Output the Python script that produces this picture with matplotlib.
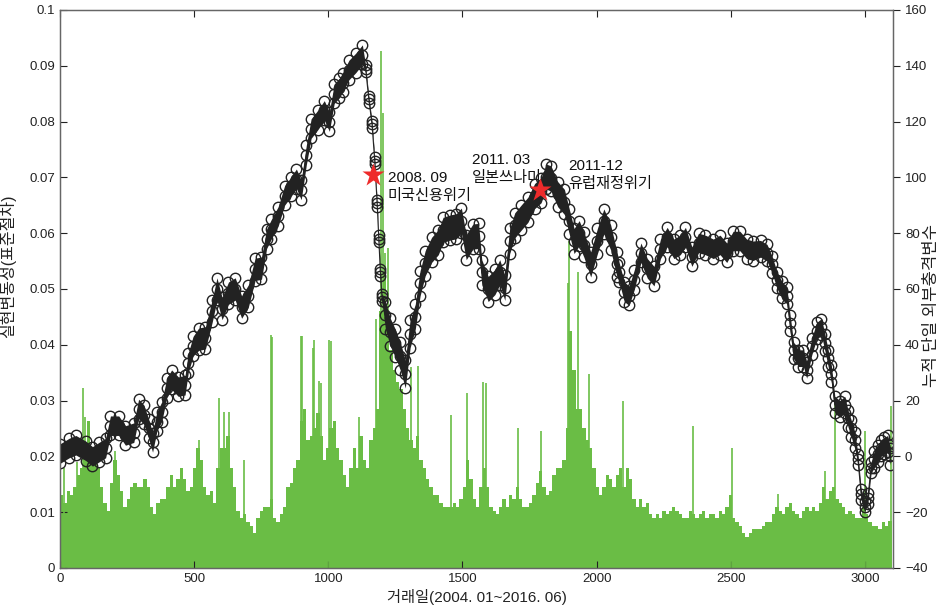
import numpy as np
import matplotlib
matplotlib.use("Agg")
import matplotlib.pyplot as plt
from matplotlib.ticker import FuncFormatter, MultipleLocator

plt.rcParams['font.family'] = ['Liberation Sans', 'Noto Sans CJK KR', 'DejaVu Sans']

# realized volatility (x 1/1000), one value per ~12 trading days, 2004.01 ~ 2016.06
rv_vals = [
    13, 11.7, 13.8, 13, 14.5, 16.6, 18, 21.5, 26.4, 21.5, 19.4, 18, 14.5, 11.7, 10.3, 15.2,
    19.4, 16.6, 13.8, 11, 12.4, 14.5, 15.2, 14.5, 14.5, 16, 14.5, 11, 9.7, 11.7, 12.4, 12.4,
    14.5, 16.6, 14.5, 16, 18, 16, 13.8, 14.5, 18, 21.5,
    19.4, 14.5, 13, 13.8, 11.7, 18, 21.5, 21.5, 23.6, 18, 14.5, 10.3, 9, 9.7, 8.3, 7.6,
    6.2, 9, 10.3, 11, 11, 12.4, 9, 8.3, 9.7, 11, 14.5, 15.2, 18, 19.4, 26.4, 28.5,
    23, 23.6, 25, 27.8, 23.6, 19.4, 21.5, 25, 26.4, 21.5,
    19.4, 16.6, 14.5, 18, 21.5, 18, 23.6, 19.4, 18, 23, 25, 28.5, 46, 53, 46, 39,
    35.5, 33.4, 32, 28.5, 25, 23, 21.5, 23.6, 19.4, 18, 16, 14.5, 13, 13, 11.7, 11,
    11, 11, 11.7, 11, 12.4, 14.5, 19.4, 16, 12.4, 11,
    14.5, 18, 14.5, 11, 10.3, 9.7, 11, 12.4, 11, 13, 12.4, 14.5, 12.4, 11, 11, 11.7,
    13, 15.2, 17.3, 14.5, 13, 13.8, 16.6, 18, 18, 19.4, 25, 42.5, 35.5, 28.5, 28.5, 25,
    23, 21.5, 18, 14.5, 13, 14.5, 16.6, 16, 14.5, 16.6,
    18, 14.5, 18, 16, 12.4, 11, 12.4, 11, 11.7, 9.7, 9, 9.7, 9, 10.3, 9.7, 10.3,
    11, 10.3, 9.7, 9, 9, 10.3, 9.7, 9, 9.7, 10.3, 9, 9.7, 9.7, 9, 10.3, 9.7,
    11, 13, 9, 8.3, 7.6, 6.2, 5.5, 6.2, 6.9,
    6.9, 6.9, 7.6, 8.3, 8.3, 9.7, 11, 10.3, 9.7, 11, 11.7, 10.3, 9.7, 9, 10.3, 11,
    10.3, 11, 10.3, 11.7, 14.5, 12.4, 13.8, 14.5, 12.4, 11.7, 11, 9.7, 10.3, 9.7, 9, 9,
    11, 9.7, 8.3, 7.6, 7.6, 6.9, 8.3, 7.6, 8.5,
]

# single-day volatility spikes (trading day, x 1/1000)
spike_day = [16, 65, 87, 95, 205, 517, 592, 610, 630, 687, 786, 789, 899, 903, 942, 947,
             967, 972, 1004, 1009, 1114, 1176, 1198, 1204, 1213, 1221, 1308, 1336, 1458,
             1518, 1578, 1586, 1707, 1793, 1894, 1898, 1929, 1972, 2097, 2358, 2503, 2675,
             2851, 2888, 3000, 3098]
spike_vals = [18, 19, 32.2, 27, 21, 23, 30.5, 28, 28, 19.4, 41.8, 41.4, 41.6, 41.6, 39.4, 40.8,
              33.6, 33.1, 40.8, 40.6, 27, 44.6, 92.7, 81.5, 56.5, 57.3, 36, 36.2, 27.4,
              31.3, 33.4, 33.1, 25, 24.5, 51, 58.6, 53, 34.8, 30, 25.4, 21.5, 13.3,
              17.3, 30.6, 24.5, 29]

# cumulative single external shock variable (right axis): band centre and half-width
shock_day = [0, 34, 59, 96, 121, 145, 170, 188, 219, 244, 275, 293, 312, 330, 345, 361,
             379, 398, 416, 441, 466, 478, 496, 517, 542, 567, 585, 604, 628, 653, 677,
             702, 727, 751, 770, 788, 813, 837, 862, 881, 899, 918, 936, 961, 985, 1004,
             1022, 1041, 1053, 1077, 1102, 1127, 1139, 1151, 1163, 1173, 1182, 1188, 1194,
             1200, 1213, 1231, 1250, 1268, 1287, 1305, 1324, 1342, 1361, 1385, 1410, 1428,
             1453, 1477, 1496, 1514, 1539, 1560, 1572, 1596, 1621, 1639, 1658, 1676, 1695,
             1719, 1744, 1769, 1793, 1812, 1830, 1855, 1880, 1898, 1916, 1935, 1953, 1978,
             2003, 2027, 2052, 2076, 2084, 2103, 2121, 2140, 2165, 2189, 2214, 2238, 2263,
             2288, 2312, 2331, 2355, 2380, 2405, 2435, 2460, 2485, 2509, 2534, 2559, 2583,
             2611, 2635, 2654, 2672, 2691, 2709, 2721, 2734, 2752, 2771, 2783, 2802, 2820,
             2838, 2851, 2863, 2875, 2888, 2906, 2925, 2937, 2949, 2962, 2974, 2986, 2999,
             3011, 3023, 3035, 3048, 3060, 3072, 3085, 3095]
shock_vals = [1, 3, 4, 2, 0, 1.5, 3, 11, 11, 7.5, 8.5, 17, 15, 10, 5, 12.5,
              16, 24.5, 27.5, 25, 25.5, 33.5, 39.5, 42, 42.5, 52, 60, 53, 58.5, 60, 53.5,
              57.5, 67, 67.5, 78, 81.5, 86, 93.5, 96.8, 99.5, 95.5, 108, 117.5, 120.6, 124, 120,
              130, 132, 134, 138.5, 141, 144, 139, 128, 119, 106, 90.7, 78, 66,
              57, 50.5, 44.5, 40.5, 36, 29.5, 44, 50, 62, 69.2, 74, 76.8, 81.2,
              82, 82.5, 84.5, 75, 78.8, 79, 66, 60, 62.5, 66, 60.4, 77.2, 82.8,
              85.6, 88.4, 93.3, 95.4, 100.3, 99.6, 94, 91.2, 84.2, 77.2, 80, 75.8, 68.8,
              77.2, 84.2, 78.6, 68.8, 66, 59, 57.6, 63.2, 73, 67.4, 64.6, 74.4, 78.6,
              74.4, 75.8, 78.6, 71.6, 76.5, 75.8, 74.4, 75.8, 73, 77.2, 77.2, 74.4, 73.7,
              74.4, 73, 68.8, 63.2, 59.7, 57.6, 47.8, 38, 35.2, 35.2, 31, 39.4, 45,
              46.4, 40.8, 35.2, 29.6, 18.5, 17, 18.5, 13.6, 10, 5.9, -1, -13.6, -18,
              -15, -4, -1, 1, 3, 3.8, 4.5, 0]
shock_spread = [3.5] * 23 + [4] * 11 + [3.5] * 18 + [1.2] * 8 + [5] * 6 + [4.5] * 12 \
    + [4.5] * 24 + [3.5] * 22 + [3] * 23 + [2] * 5 + [3] * 6

event_day = [1168, 1790]
event_vals = [100.8, 95.4]

n_days = 3100
rv_day = np.linspace(0, n_days, len(rv_vals), endpoint=False)
rv_step = n_days / len(rv_vals)

fig = plt.figure(figsize=(9.39, 6.12), dpi=100)
ax = fig.add_axes([0.0639, 0.0719, 0.8872, 0.9118])
ax2 = ax.twinx()

green = '#6abd45'
ax.bar(rv_day, np.array(rv_vals) / 1000, width=rv_step, align='edge', color=green, linewidth=0)
ax.vlines(spike_day, 0, np.array(spike_vals) / 1000, color=green, lw=1.2)

ink = '#222222'
centre = np.array(shock_vals)
spread = np.array(shock_spread)
# dense band of daily circles: dark ribbon with circle outlines on its edges
ax2.fill_between(shock_day, centre - spread, centre + spread, color=ink, lw=0)
ax2.plot(shock_day, centre + spread, ls='none', marker='o', mfc='none', mec=ink, ms=7.5, mew=1.0)
ax2.plot(shock_day, centre - spread, ls='none', marker='o', mfc='none', mec=ink, ms=7.5, mew=1.0)
ax2.plot(shock_day, centre, color=ink, lw=0.8, marker='o', mfc='none', mec=ink, ms=7.5, mew=1.0)
ax2.plot(event_day, event_vals, '*', color='#ee2b2b', ms=17, mec='none', zorder=5)

ax.set_xlim(0, 3105)
ax.set_ylim(0, 0.1)
ax2.set_ylim(-40, 160)
ax.xaxis.set_major_locator(MultipleLocator(500))
ax.yaxis.set_major_locator(MultipleLocator(0.01))
ax.yaxis.set_major_formatter(FuncFormatter(lambda v, p: '%g' % round(v, 3)))
ax2.yaxis.set_major_locator(MultipleLocator(20))

ax.tick_params(axis='x', direction='in', top=True, length=5, labelsize=9.5, colors='#222222')
ax.tick_params(axis='y', direction='in', length=5, labelsize=9.5, colors='#222222')
ax2.tick_params(axis='y', direction='out', length=5, labelsize=9.5, colors='#222222')
for a in (ax, ax2):
    for s in a.spines.values():
        s.set_color('#666666')
        s.set_linewidth(0.9)

ax.set_xlabel('거래일(2004. 01~2016. 06)', fontsize=11, color='#222222', labelpad=3)
ax.set_ylabel('실현변동성(표준절차)', fontsize=11.5, color='#222222')
ax.yaxis.set_label_coords(-0.053, 0.54)
ax2.set_ylabel('누적 단일 외부충격변수', fontsize=12, color='#222222', rotation=90)
ax2.yaxis.set_label_coords(1.037, 0.47)

txt = dict(fontsize=11, color='#111111', va='center', linespacing=1.35)
ax.text(1222, 0.0683, '2008. 09\n미국신용위기', **txt)
ax.text(1536, 0.0715, '2011. 03\n일본쓰나미', **txt)
ax.text(1895, 0.0704, '2011-12\n유럽재정위기', **txt)

fig.savefig('out.png', dpi=100)
